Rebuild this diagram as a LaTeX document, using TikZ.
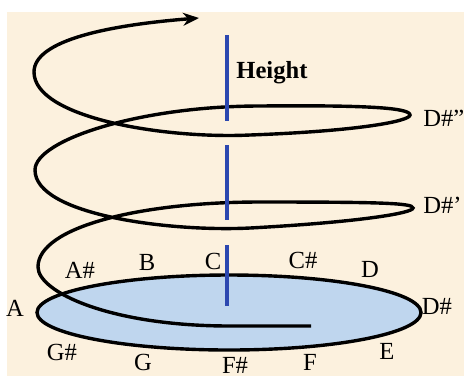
\documentclass[tikz,border=0pt]{standalone}
\usepackage{fontspec}
\setmainfont{Liberation Serif}
\usetikzlibrary{arrows.meta}
\definecolor{paper}{RGB}{252,241,222}
\definecolor{disk}{RGB}{191,214,238}
\definecolor{axisblue}{RGB}{44,72,176}

\begin{document}
\begin{tikzpicture}[x=0.5pt, y=-0.5pt, >=Stealth,
  note/.style={font=\fontsize{12.3}{14}\selectfont, inner sep=0pt, text depth=0pt}]
  \useasboundingbox (0,0) rectangle (464,376);
  % Background
  \fill[white] (0,0) rectangle (464,376);
  \fill[paper] (7,12) rectangle (464,376);
  % Base circle of pitch classes
  \filldraw[fill=disk, draw=black, line width=1.7pt] (229,312.5) ellipse [x radius=96pt, y radius=18.75pt];
  % Spiral (rising octaves)
  \draw[-{Stealth[length=8pt, width=6.5pt]}, line width=1.7pt] (311,326) -- (230,326)
    .. controls (110,326) and (38,292) .. (38,267)
    .. controls (38,227) and (140,202) .. (260,202)
    .. controls (380,202) and (413,203) .. (413,208)
    .. controls (413,213) and (360,222) .. (250,228)
    .. controls (170,232) and (35,215) .. (35,170)
    .. controls (35,140) and (140,106) .. (260,106)
    .. controls (370,105) and (410,108) .. (410,115)
    .. controls (410,121) and (360,131) .. (250,135)
    .. controls (165,139) and (34,118) .. (34,72)
    .. controls (34,40) and (110,25) .. (199,18);
  % Height axis
  \draw[axisblue, line width=1.6pt] (227,35) -- (227,121) (227,145) -- (227,220) (227,245) -- (227,306);
  \node[note, anchor=west, font=\fontsize{12.3}{14}\selectfont\bfseries] (height) at (236,70) {Height};
  % Pitch labels
  \node[note] (a) at (15,308) {A};
  \node[note] (ais) at (80,270) {A\#};
  \node[note] (b) at (147,262) {B};
  \node[note] (c) at (213,261) {C};
  \node[note] (cis) at (303,260) {C\#};
  \node[note] (d) at (370,269) {D};
  \node[note] (dis) at (437,306) {D\#};
  \node[note] (e) at (387,351) {E};
  \node[note] (f) at (310,362) {F};
  \node[note] (fis) at (235,365) {F\#};
  \node[note] (g) at (143,362) {G};
  \node[note] (gis) at (62,352) {G\#};
  \node[note, anchor=west] (dis1) at (423,205) {D\#'};
  \node[note, anchor=west] (dis2) at (423,118) {D\#''};
\end{tikzpicture}
\end{document}
